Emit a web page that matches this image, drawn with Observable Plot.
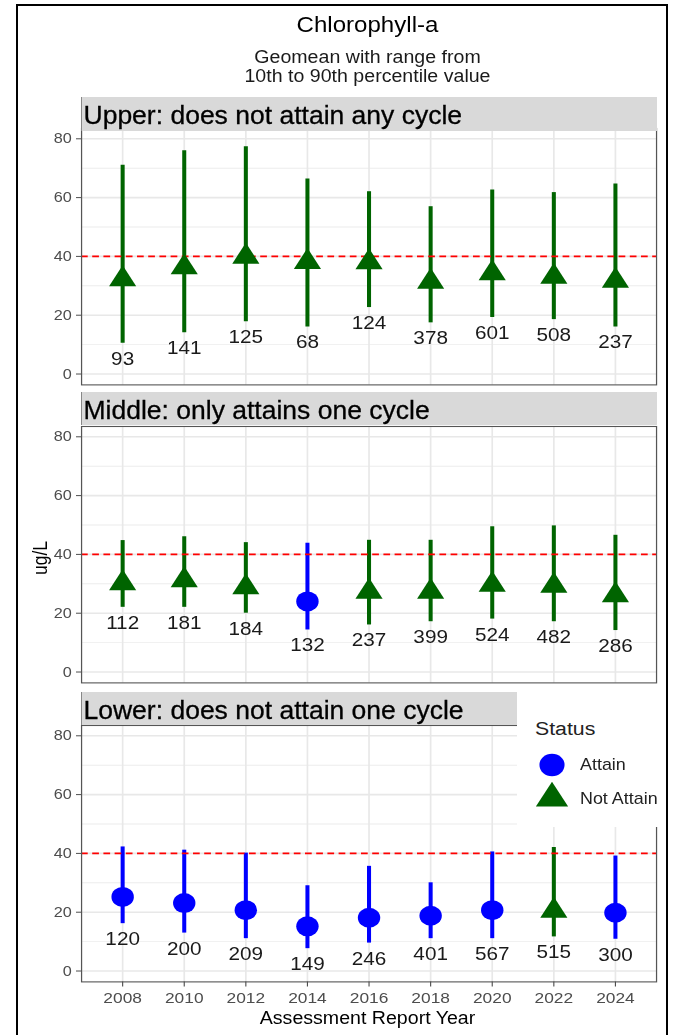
<!DOCTYPE html>
<html><head><meta charset="utf-8">
<script src="https://cdn.jsdelivr.net/npm/d3@7"></script>
<script src="https://cdn.jsdelivr.net/npm/@observablehq/plot@0.6"></script>
<style>
html,body{margin:0;padding:0;background:#fff;}
#root{position:relative;width:673px;height:1035px;overflow:hidden;background:#fff;font-family:"Liberation Sans",Arial,Helvetica,sans-serif;}
#stretch{position:absolute;left:0;top:0;height:1035px;transform-origin:0 0;}
.abs{position:absolute;left:0;display:block;}
</style></head>
<body><div id="root"><div id="stretch"></div></div>
<script>
// ---------------- data ----------------
const years = ["2008","2010","2012","2014","2016","2018","2020","2022","2024"];
const statusDomain = ["Attain", "Not Attain"];
const statusColors = ["#0000FF", "#006400"];
const yTicks = [0, 20, 40, 60, 80];
const yMinorTicks = [10, 30, 50, 70];
const criterion = 40;

const upperGeo = [32.2, 36.3, 39.9, 38.1, 38.0, 31.4, 34.3, 33.1, 31.7];
const upperP10 = [10.5, 14.0, 17.8, 16.0, 22.6, 17.4, 19.2, 18.5, 16.0];
const upperP90 = [71.0, 75.9, 77.3, 66.3, 62.0, 56.9, 62.6, 61.7, 64.6];
const upperN   = [93, 141, 125, 68, 124, 378, 601, 508, 237];
const upperStatus = ["Not Attain","Not Attain","Not Attain","Not Attain","Not Attain","Not Attain","Not Attain","Not Attain","Not Attain"];

const middleGeo = [30.2, 31.2, 28.8, 24.0, 27.3, 27.3, 29.7, 29.3, 26.1];
const middleP10 = [22.0, 22.0, 20.0, 14.3, 16.0, 17.1, 18.0, 17.1, 14.1];
const middleP90 = [44.7, 46.0, 44.0, 43.8, 44.8, 44.8, 49.4, 49.7, 46.5];
const middleN   = [112, 181, 184, 132, 237, 399, 524, 482, 286];
const middleStatus = ["Not Attain","Not Attain","Not Attain","Attain","Not Attain","Not Attain","Not Attain","Not Attain","Not Attain"];

const lowerGeo = [25.2, 23.1, 20.7, 15.2, 18.1, 18.8, 20.7, 20.5, 19.8];
const lowerP10 = [16.1, 12.9, 11.0, 7.6, 9.5, 11.0, 11.0, 11.6, 10.8];
const lowerP90 = [42.2, 41.1, 40.1, 29.0, 35.6, 30.0, 40.5, 42.0, 39.1];
const lowerN   = [120, 200, 209, 149, 246, 401, 567, 515, 300];
const lowerStatus = ["Attain","Attain","Attain","Attain","Attain","Attain","Attain","Not Attain","Attain"];

const titleText = "Chlorophyll-a";
const subtitleLines = ["Geomean with range from", "10th to 90th percentile value"];
const stripLabels = ["Upper: does not attain any cycle", "Middle: only attains one cycle", "Lower: does not attain one cycle"];
const yLabel = "ug/L";
const xLabel = "Assessment Report Year";
const legendTitle = "Status";

// ---------------- layout ----------------
const S = 1.12;                 // horizontal stretch of the chart layer
const W = 673 / S;
const ML = 81 / S, MR = W - 656 / S;
const yDomain = [-3.7, 83.5];
const PH = 256.4;
const FONT = "'Liberation Sans', Arial, Helvetica, sans-serif";
const NS = "http://www.w3.org/2000/svg";

const stretchDiv = document.getElementById("stretch");
stretchDiv.style.width = W + "px";
stretchDiv.style.transform = `scaleX(${S})`;

function panel(geo, p10, p90, n, status, panelTop, mb, withX) {
  const data = years.map((y, i) => ({year: y, geo: geo[i], lo: p10[i], hi: p90[i], n: n[i], status: status[i]}));
  const mt = 10;
  const marks = [
    Plot.gridY(yMinorTicks, {stroke: "#ececec", strokeOpacity: 1, strokeWidth: 0.9}),
    Plot.gridY(yTicks, {stroke: "#e8e8e8", strokeOpacity: 1, strokeWidth: 1.6}),
    Plot.gridX(years, {stroke: "#e8e8e8", strokeOpacity: 1, strokeWidth: 1.5}),
    Plot.axisY(yTicks, {tickSize: 4.5, tickPadding: 4.2, fontSize: 14.5, color: "#4d4d4d", label: null}),
    Plot.ruleX(data, {x: "year", y1: "lo", y2: "hi", stroke: "status", strokeWidth: 3.6}),
    Plot.ruleY([criterion], {stroke: "#ff0000", strokeWidth: 1.6, strokeDasharray: "6,4"}),
    Plot.dot(data.filter(d => d.status === "Attain"), {x: "year", y: "geo", r: 10, fill: "status", symbol: "circle"}),
    Plot.dot(data.filter(d => d.status !== "Attain"), {x: "year", y: "geo", r: 9, fill: "status", symbol: "triangle"}),
    Plot.text(data, {x: "year", y: "lo", text: "n", dy: 15.5, fontSize: 18.5, fill: "#1a1a1a"}),
    Plot.frame({stroke: "#555", strokeWidth: 1.1})
  ];
  if (withX) marks.push(Plot.axisX({tickSize: 5, tickPadding: 5.5, fontSize: 15.5, color: "#4d4d4d", label: null}));
  const chart = Plot.plot({
    width: W, height: PH + mt + mb,
    marginLeft: ML, marginRight: MR, marginTop: mt, marginBottom: mb,
    style: {background: "transparent", fontFamily: FONT, overflow: "visible"},
    x: {type: "point", domain: years, padding: 0.6, axis: null, label: null},
    y: {domain: yDomain, axis: null, label: null},
    color: {domain: statusDomain, range: statusColors},
    marks
  });
  chart.classList.add("abs");
  chart.style.top = (panelTop - mt) + "px";
  stretchDiv.appendChild(chart);
}

panel(upperGeo, upperP10, upperP90, upperN, upperStatus, 127.6, 10, false);
panel(middleGeo, middleP10, middleP90, middleN, middleStatus, 426.4, 10, false);
panel(lowerGeo, lowerP10, lowerP90, lowerN, lowerStatus, 725.2, 60, true);

// ---------------- chart-layer texts & legend ----------------
function el(parent, tag, attrs, text) {
  const e = document.createElementNS(NS, tag);
  for (const k in attrs) e.setAttribute(k, attrs[k]);
  if (text != null) e.textContent = text;
  parent.appendChild(e);
  return e;
}
const ov = document.createElementNS(NS, "svg");
ov.setAttribute("width", W); ov.setAttribute("height", 1035);
ov.setAttribute("class", "abs"); ov.style.top = "0px";
ov.style.fontFamily = FONT;
stretchDiv.appendChild(ov);

const cx = 367.5 / S;
el(ov, "text", {x: cx, y: 32.5, "text-anchor": "middle", "font-size": 21.5, fill: "#000"}, titleText);
el(ov, "text", {x: cx, y: 63.5, "text-anchor": "middle", "font-size": 17.5, fill: "#1a1a1a"}, subtitleLines[0]);
el(ov, "text", {x: cx, y: 82.5, "text-anchor": "middle", "font-size": 17.5, fill: "#1a1a1a"}, subtitleLines[1]);
el(ov, "text", {x: cx, y: 1024, "text-anchor": "middle", "font-size": 17.5, fill: "#000"}, xLabel);
el(ov, "text", {transform: `translate(${40 / S},558) rotate(-90)`, "text-anchor": "middle", "dominant-baseline": "central", "font-size": 17.5, fill: "#000"}, yLabel);

// legend
el(ov, "rect", {x: 517 / S, y: 690, width: W - 517 / S, height: 137, fill: "#fff"});
el(ov, "text", {x: 535 / S, y: 735, "font-size": 19, fill: "#222"}, legendTitle);
const circ = d3.symbol(d3.symbolCircle, Math.PI * 11.2 * 11.2)();
const tri = d3.symbol(d3.symbolTriangle, Math.PI * 10.7 * 10.7)();
el(ov, "path", {d: circ, transform: `translate(${552 / S},765)`, fill: statusColors[0]});
el(ov, "path", {d: tri, transform: `translate(${552 / S},798.3)`, fill: statusColors[1]});
el(ov, "text", {x: 580 / S, y: 770.5, "font-size": 16, fill: "#222"}, statusDomain[0]);
el(ov, "text", {x: 580 / S, y: 804, "font-size": 16, fill: "#222"}, statusDomain[1]);

// ---------------- unstretched overlay: strips & frame ----------------
const topSvg = document.createElementNS(NS, "svg");
topSvg.setAttribute("width", 673); topSvg.setAttribute("height", 1035);
topSvg.setAttribute("class", "abs"); topSvg.style.top = "0px";
topSvg.style.fontFamily = FONT;
document.getElementById("root").appendChild(topSvg);

const strips = [
  {x: 81, y: 97, w: 576, h: 34},
  {x: 81, y: 392, w: 576, h: 33},
  {x: 81, y: 692, w: 436, h: 33}
];
strips.forEach((s, i) => {
  el(topSvg, "rect", {x: s.x, y: s.y, width: s.w, height: s.h, fill: "#d9d9d9"});
  el(topSvg, "line", {x1: s.x + 0.5, x2: s.x + 0.5, y1: s.y, y2: s.y + s.h, stroke: "#888", "stroke-width": 1});
  el(topSvg, "text", {x: s.x + 2.5, y: s.y + 26.5, "font-size": 26.5, fill: "#000", stroke: "#000", "stroke-width": 0.3}, stripLabels[i]);
});
el(topSvg, "path", {d: "M17,1036 V5 H667 V1036", fill: "none", stroke: "#000", "stroke-width": 2});
</script>
</body></html>
